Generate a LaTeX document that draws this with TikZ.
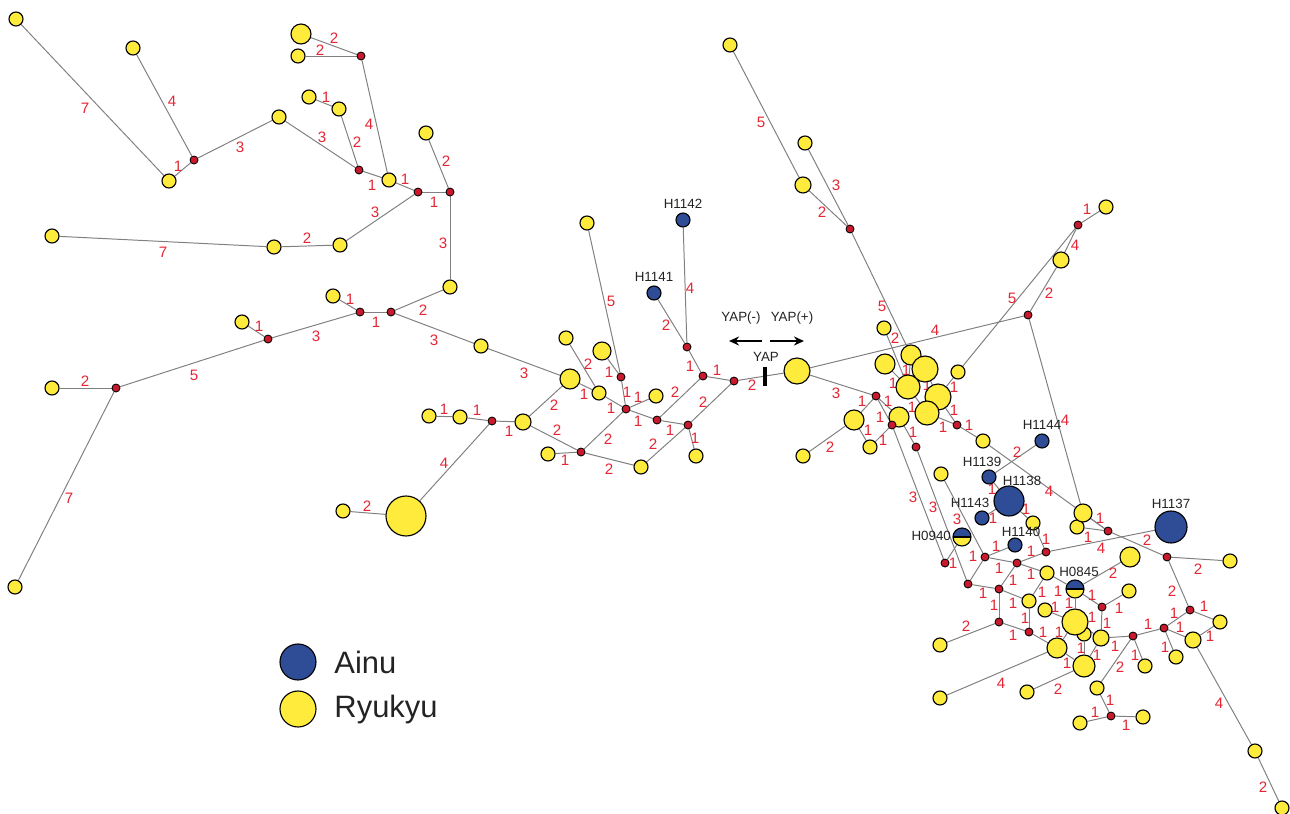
\documentclass[tikz,border=0pt]{standalone}
\usepackage{fontspec}
\setmainfont{Liberation Sans}
\usepackage{tikz}
\usetikzlibrary{arrows.meta,backgrounds}

\definecolor{hapyellow}{RGB}{255,235,60}
\definecolor{hapblue}{RGB}{47,76,150}
\definecolor{mvred}{RGB}{200,25,45}
\definecolor{numred}{RGB}{228,38,52}
\definecolor{linkgray}{RGB}{128,128,128}
\definecolor{txtgray}{RGB}{35,35,35}

% edge between two haplotypes, with its step count at (x,y)
\newcommand{\hlink}[4]{\draw [link] (#1) -- (#2); \node [num] (n-#1-#2) at (#3) {#4};}

\begin{document}
\begin{tikzpicture}[x=0.5mm,y=0.5mm,
  hap/.style={circle,draw=black,line width=1.6pt,fill=hapyellow,inner sep=0pt,minimum size=#1mm},
  hap/.default=7,
  ainu/.style={hap=#1,fill=hapblue},
  ainu/.default=7,
  mixed/.style={hap=#1,path picture={
      \fill [hapblue] (path picture bounding box.west) rectangle (path picture bounding box.north east);
      \draw [line width=1.6pt] (path picture bounding box.west) -- (path picture bounding box.east);}},
  mv/.style={circle,draw=black,line width=1.2pt,fill=mvred,inner sep=0pt,minimum size=4mm},
  link/.style={draw=linkgray,line width=1.4pt},
  num/.style={text=numred,font=\fontsize{21.5}{21.5}\selectfont,inner sep=0pt},
  hname/.style={text=txtgray,font=\fontsize{19}{19}\selectfont,inner sep=0pt},
  yarrow/.style={line width=2.4pt,-{Stealth[length=5mm,width=4.5mm]}}]
\useasboundingbox (0,0) rectangle (1290,-814);

% left part
\node [hap] (y1) at (16,-19) {};
\node [hap] (y2) at (133,-48) {};
\node [hap] (y3) at (169,-181) {};
\node [hap] (y4) at (279,-117) {};
\node [hap] (y5) at (309,-97) {};
\node [hap] (y6) at (339,-109) {};
\node [hap] (y7) at (298,-56) {};
\node [hap=10] (yb1) at (301,-34) {};
\node [hap] (y8) at (389,-180) {};
\node [hap] (y9) at (426,-133) {};
\node [hap] (y10) at (340,-245) {};
\node [hap] (y11) at (274,-247) {};
\node [hap] (y12) at (52,-236) {};
\node [hap] (y13) at (450,-287) {};
\node [hap] (y14) at (333,-296) {};
\node [hap] (y15) at (481,-346) {};
\node [hap] (y16) at (242,-322) {};
\node [hap] (y17) at (52,-388) {};
\node [hap] (y18) at (15,-587) {};
\node [hap=20] (yb2) at (406,-516) {};
\node [hap] (y19) at (343,-511) {};
\node [hap] (y20) at (429,-416) {};
\node [hap] (y21) at (460,-417) {};
\node [hap=8] (y22) at (523,-422) {};
\node [hap=10] (y23) at (570,-379) {};
\node [hap] (y24) at (599,-393) {};
\node [hap] (y25) at (548,-454) {};
\node [hap] (y26) at (641,-467) {};
\node [hap] (y27) at (566,-338) {};
\node [hap] (y28) at (587,-223) {};
\node [hap=9] (ym3) at (602,-351) {};
\node [hap] (y29) at (656,-396) {};
\node [hap] (y30) at (696,-456) {};
\node [ainu] (h1142) at (683,-220) {};
\node [ainu] (h1141) at (654,-293) {};
\node [hname] (t1142) at (683,-204) {H1142};
\node [hname] (t1141) at (654,-277) {H1141};

\node [mv] (mv1) at (194,-160) {};
\node [mv] (mv2) at (359,-170) {};
\node [mv] (mv3) at (361,-56) {};
\node [mv] (mv4) at (418,-192) {};
\node [mv] (mv5) at (450,-192) {};
\node [mv] (mv6) at (391,-312) {};
\node [mv] (mv7) at (360,-312) {};
\node [mv] (mv8) at (268,-339) {};
\node [mv] (mv9) at (116,-388) {};
\node [mv] (mv10) at (492,-421) {};
\node [mv] (mv11) at (581,-452) {};
\node [mv] (mv12) at (626,-409) {};
\node [mv] (mv13) at (621,-377) {};
\node [mv] (mv14) at (657,-420) {};
\node [mv] (mv15) at (688,-425) {};
\node [mv] (mv16) at (703,-376) {};
\node [mv] (mv17) at (734,-381) {};
\node [mv] (mv18) at (687,-347) {};

% YAP marker
\node [hap=13] (yb3) at (797,-371) {};
\node [fill=black,inner sep=0pt,minimum width=2.2mm,minimum height=9.5mm] (yapbar) at (765,-376) {};
\node [hname] (tyap) at (766,-357) {YAP};
\node [hname] (tneg) at (741,-318) {YAP(-)};
\node [hname] (tpos) at (792,-318) {YAP(+)};
\coordinate (yapl) at (762,-341);
\coordinate (yapr) at (770,-341);
\coordinate (yapneg) at (729,-341);
\coordinate (yappos) at (804,-341);
\draw [yarrow] (yapl) -- (yapneg);
\draw [yarrow] (yapr) -- (yappos);

% right part
\node [hap] (y31) at (730,-45) {};
\node [hap] (y32) at (805,-143) {};
\node [hap=8] (y33) at (803,-185) {};
\node [hap=10] (yc) at (885,-364) {};
\node [hap=10] (ya) at (911,-355) {};
\node [hap=13] (yb) at (925,-369) {};
\node [hap] (yd) at (958,-372) {};
\node [hap] (yl) at (884,-328) {};
\node [hap=12] (ye) at (908,-387) {};
\node [hap=13] (yf) at (938,-397) {};
\node [hap=12] (yg) at (927,-413) {};
\node [hap=10] (yh) at (854,-420) {};
\node [hap=10] (yi) at (899,-417) {};
\node [hap] (yj) at (870,-447) {};
\node [hap] (yk) at (983,-441) {};
\node [hap] (ym) at (803,-456) {};
\node [hap=8] (yn) at (1061,-260) {};
\node [hap] (yo) at (1106,-207) {};
\node [hap] (yr) at (1077,-527) {};
\node [hap=9] (yp) at (1083,-513) {};
\node [hap] (yq) at (1033,-523) {};
\node [hap] (ys) at (1230,-561) {};
\node [hap] (yt) at (1220,-622) {};
\node [hap] (yu) at (941,-474) {};
\node [hap] (yv) at (1047,-573) {};
\node [hap] (yw) at (1029,-601) {};
\node [hap] (yx) at (940,-645) {};
\node [hap] (yz) at (940,-698) {};
\node [hap] (yac) at (1045,-610) {};
\node [hap] (yag) at (1084,-634) {};
\node [hap=8] (yaf) at (1101,-638) {};
\node [hap=10] (yy) at (1057,-648) {};
\node [hap=13] (ybig4) at (1075,-622) {};
\node [hap=11] (yaa) at (1084,-666) {};
\node [hap] (yab) at (1027,-692) {};
\node [hap=10] (yad) at (1130,-557) {};
\node [hap] (yae) at (1129,-591) {};
\node [hap] (yah) at (1145,-666) {};
\node [hap] (yai) at (1097,-688) {};
\node [hap] (yaj) at (1080,-723) {};
\node [hap] (yak) at (1143,-717) {};
\node [hap] (yal) at (1176,-657) {};
\node [hap=8] (yam) at (1193,-640) {};
\node [hap] (yan) at (1255,-751) {};
\node [hap] (yao) at (1282,-808) {};

\node [ainu] (h1144) at (1042,-441) {};
\node [ainu] (h1139) at (989,-477) {};
\node [ainu=15] (h1138) at (1009,-501) {};
\node [ainu] (h1143) at (982,-518) {};
\node [ainu] (h1140) at (1015,-545) {};
\node [ainu=16] (h1137) at (1171,-527) {};
\node [mixed=9] (h0940) at (962,-537) {};
\node [mixed=9] (h0845) at (1075,-589) {};
\node [hname] (t1144) at (1042,-425) {H1144};
\node [hname] (t1139) at (982,-462) {H1139};
\node [hname] (t1138) at (1022,-481) {H1138};
\node [hname] (t1143) at (970,-503) {H1143};
\node [hname] (t1140) at (1021,-532) {H1140};
\node [hname] (t1137) at (1171,-504) {H1137};
\node [hname,anchor=east] (t0940) at (951,-536) {H0940};
\node [hname] (t0845) at (1079,-572) {H0845};

\node [mv] (mv19) at (850,-229) {};
\node [mv] (mv20) at (876,-396) {};
\node [mv] (mv21) at (892,-425) {};
\node [mv] (mv22) at (916,-447) {};
\node [mv] (mv23) at (957,-425) {};
\node [mv] (mv24) at (1028,-315) {};
\node [mv] (mv25) at (945,-563) {};
\node [mv] (mv26) at (968,-584) {};
\node [mv] (mv27) at (1078,-225) {};
\node [mv] (mv28) at (1108,-531) {};
\node [mv] (mv29) at (1046,-552) {};
\node [mv] (mv30) at (1167,-557) {};
\node [mv] (mv31) at (1190,-610) {};
\node [mv] (mv32) at (985,-557) {};
\node [mv] (mv33) at (1017,-563) {};
\node [mv] (mv34) at (999,-589) {};
\node [mv] (mv35) at (999,-622) {};
\node [mv] (mv36) at (1029,-632) {};
\node [mv] (mv37) at (1102,-607) {};
\node [mv] (mv38) at (1133,-636) {};
\node [mv] (mv39) at (1111,-716) {};
\node [mv] (mv40) at (1164,-628) {};

% legend
\node [ainu=18] (kainu) at (298,-662) {};
\node [hap=18] (kryukyu) at (298,-709) {};
\node [anchor=west,text=txtgray,font=\fontsize{44}{44}\selectfont] (lainu) at (332,-662) {Ainu};
\node [anchor=west,text=txtgray,font=\fontsize{44}{44}\selectfont] (lryukyu) at (332,-709) {Ryukyu};

\begin{scope}[on background layer]
\hlink{y1}{y3}{85,-108}{7}
\hlink{y2}{mv1}{172,-101}{4}
\hlink{y3}{mv1}{178,-166}{1}
\hlink{mv1}{y4}{240,-147}{3}
\hlink{y4}{mv2}{322,-137}{3}
\hlink{y5}{y6}{326,-97}{1}
\hlink{y6}{mv2}{357,-142}{2}
\hlink{yb1}{mv3}{334,-38}{2}
\hlink{y7}{mv3}{320,-50}{2}
\hlink{mv3}{y8}{369,-124}{4}
\hlink{mv2}{y8}{372,-185}{1}
\hlink{y8}{mv4}{405,-179}{1}
\hlink{mv4}{mv5}{434,-202}{1}
\hlink{y9}{mv5}{446,-161}{2}
\hlink{mv4}{y10}{375,-212}{3}
\hlink{y10}{y11}{307,-238}{2}
\hlink{y12}{y11}{163,-252}{7}
\hlink{mv5}{y13}{443,-243}{3}
\hlink{y13}{mv6}{423,-310}{2}
\hlink{y14}{mv7}{350,-299}{1}
\hlink{mv7}{mv6}{376,-322}{1}
\hlink{mv6}{y15}{434,-340}{3}
\hlink{mv7}{mv8}{316,-336}{3}
\hlink{y16}{mv8}{259,-326}{1}
\hlink{mv8}{mv9}{194,-375}{5}
\hlink{y17}{mv9}{85,-381}{2}
\hlink{mv9}{y18}{69,-498}{7}
\hlink{y19}{yb2}{367,-506}{2}
\hlink{yb2}{mv10}{444,-463}{4}
\hlink{y20}{y21}{444,-409}{1}
\hlink{y21}{mv10}{477,-410}{1}
\hlink{mv10}{y22}{509,-431}{1}
\hlink{y22}{y23}{554,-405}{2}
\hlink{y15}{y23}{524,-373}{3}
\hlink{y23}{y24}{584,-394}{1}
\hlink{y22}{mv11}{557,-430}{2}
\hlink{y25}{mv11}{565,-460}{1}
\hlink{mv11}{y26}{609,-469}{2}
\hlink{mv11}{mv12}{608,-439}{2}
\hlink{y24}{mv12}{611,-408}{1}
\hlink{y27}{y24}{588,-364}{2}
\hlink{ym3}{mv13}{609,-372}{1}
\hlink{mv13}{mv12}{627,-392}{1}
\hlink{y28}{mv13}{611,-301}{5}
\hlink{mv12}{y29}{638,-397}{1}
\hlink{mv12}{mv14}{638,-421}{1}
\hlink{mv14}{mv15}{670,-430}{1}
\hlink{mv14}{mv16}{675,-392}{2}
\hlink{mv15}{y30}{695,-438}{1}
\hlink{y26}{mv15}{653,-444}{2}
\hlink{mv15}{mv17}{703,-402}{2}
\hlink{mv16}{mv17}{717,-370}{1}
\hlink{mv16}{mv18}{690,-366}{1}
\hlink{h1141}{mv18}{666,-325}{2}
\hlink{h1142}{mv18}{690,-288}{4}
\hlink{mv17}{yb3}{752,-385}{2}
\hlink{y31}{y33}{761,-122}{5}
\hlink{y32}{mv19}{836,-185}{3}
\hlink{y33}{mv19}{822,-212}{2}
\hlink{mv19}{ya}{882,-306}{5}
\hlink{yb3}{mv24}{935,-330}{4}
\hlink{yb3}{mv20}{836,-393}{3}
\hlink{mv20}{yh}{862,-401}{1}
\hlink{yh}{yj}{868,-430}{1}
\hlink{yj}{mv21}{883,-440}{1}
\hlink{mv20}{mv21}{880,-417}{1}
\hlink{mv20}{yi}{888,-401}{1}
\hlink{yi}{mv22}{913,-432}{1}
\hlink{mv21}{mv25}{913,-497}{3}
\hlink{mv22}{mv26}{933,-507}{3}
\hlink{ym}{yh}{830,-447}{2}
\hlink{yl}{ye}{895,-338}{2}
\hlink{ya}{ye}{906,-370}{1}
\hlink{yc}{ye}{893,-383}{1}
\hlink{yb}{yf}{927,-385}{1}
\hlink{ye}{yg}{912,-407}{1}
\hlink{yd}{yf}{954,-387}{1}
\hlink{yf}{mv23}{954,-410}{1}
\hlink{yg}{mv23}{943,-427}{1}
\hlink{mv23}{yk}{969,-425}{1}
\hlink{mv27}{yd}{1012,-298}{5}
\hlink{mv27}{yo}{1087,-209}{1}
\hlink{mv27}{yn}{1075,-245}{4}
\hlink{yn}{mv24}{1049,-293}{2}
\hlink{mv24}{yp}{1065,-420}{4}
\hlink{yk}{mv28}{1049,-491}{4}
\hlink{h1144}{h1139}{1017,-452}{2}
\hlink{h1139}{h1138}{992,-489}{1}
\hlink{h1138}{h1143}{993,-518}{1}
\hlink{h1138}{yq}{1026,-509}{1}
\hlink{yq}{mv29}{1046,-539}{1}
\hlink{mv29}{h1137}{1101,-548}{4}
\hlink{yp}{mv28}{1100,-518}{1}
\hlink{yr}{mv28}{1088,-537}{1}
\hlink{mv28}{mv30}{1147,-540}{2}
\hlink{mv30}{ys}{1198,-569}{2}
\hlink{mv30}{mv31}{1172,-591}{2}
\hlink{yu}{mv32}{957,-519}{3}
\hlink{mv25}{h0940}{953,-563}{1}
\hlink{mv32}{h1140}{996,-546}{1}
\hlink{mv32}{mv33}{999,-568}{1}
\hlink{mv33}{mv29}{1031,-551}{1}
\hlink{mv32}{mv26}{973,-556}{1}
\hlink{mv26}{mv34}{983,-593}{1}
\hlink{mv33}{mv34}{1013,-580}{1}
\hlink{mv33}{yv}{1031,-574}{1}
\hlink{yv}{h0845}{1058,-591}{1}
\hlink{yv}{yw}{1042,-592}{1}
\hlink{mv34}{mv35}{994,-605}{1}
\hlink{mv34}{yw}{1013,-603}{1}
\hlink{mv35}{mv36}{1013,-635}{1}
\hlink{mv35}{yx}{966,-626}{2}
\hlink{yw}{mv36}{1025,-618}{1}
\hlink{mv36}{yy}{1043,-632}{1}
\hlink{yz}{yy}{1001,-683}{4}
\hlink{yy}{ybig4}{1059,-632}{1}
\hlink{yy}{yaa}{1067,-663}{1}
\hlink{yaa}{yab}{1058,-689}{2}
\hlink{ybig4}{h0845}{1069,-603}{1}
\hlink{yac}{ybig4}{1055,-607}{1}
\hlink{yag}{yaa}{1081,-648}{1}
\hlink{ybig4}{yaf}{1092,-617}{1}
\hlink{yaf}{yaa}{1097,-655}{1}
\hlink{h0845}{mv37}{1092,-595}{1}
\hlink{h0845}{yad}{1113,-573}{2}
\hlink{mv37}{yae}{1119,-608}{1}
\hlink{mv37}{yaf}{1107,-623}{1}
\hlink{yaf}{mv38}{1115,-646}{1}
\hlink{mv38}{yah}{1135,-655}{1}
\hlink{mv38}{yai}{1120,-667}{2}
\hlink{yai}{mv39}{1110,-700}{1}
\hlink{mv39}{yaj}{1095,-712}{1}
\hlink{mv39}{yak}{1126,-725}{1}
\hlink{mv38}{mv40}{1148,-624}{1}
\hlink{mv40}{mv31}{1174,-613}{1}
\hlink{mv40}{yal}{1165,-647}{1}
\hlink{mv40}{yam}{1180,-627}{1}
\hlink{mv31}{yt}{1204,-606}{1}
\hlink{yam}{yt}{1210,-636}{1}
\hlink{yam}{yan}{1219,-703}{4}
\hlink{yan}{yao}{1263,-787}{2}
\end{scope}
\end{tikzpicture}
\end{document}
